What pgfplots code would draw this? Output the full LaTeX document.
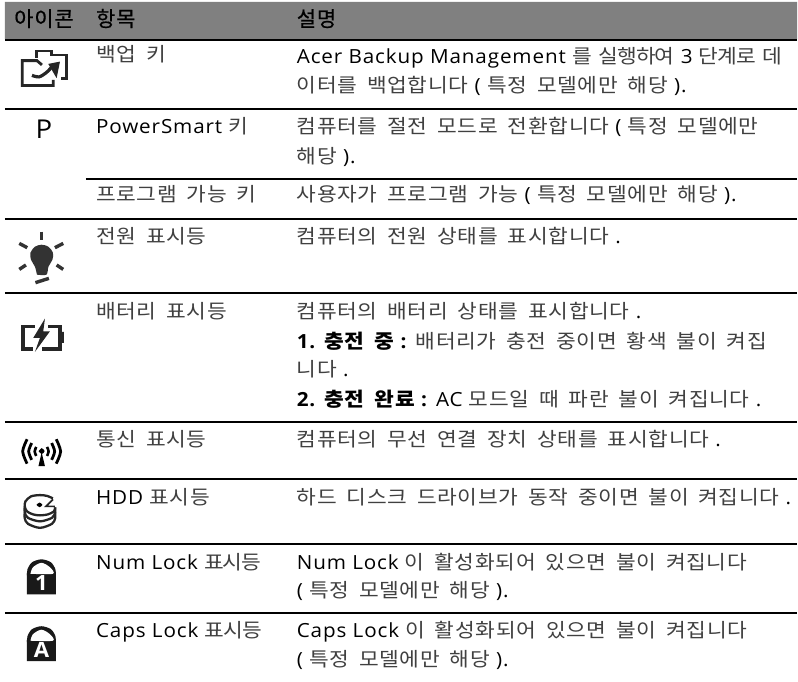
\documentclass[border=0pt]{standalone}
\usepackage{pgfplots}
\pgfplotsset{compat=1.18}
\usepackage{fontspec}
\setmainfont[LetterSpace=4.5,FakeStretch=1.06]{Open Sans}
\newfontfamily\kr[LetterSpace=3.5,FakeStretch=1.1,WordSpace=1.8]{Noto Sans CJK KR}
\newfontfamily\krn[LetterSpace=-5,FakeStretch=1.1,WordSpace=1.8]{Noto Sans CJK KR}
\newfontfamily\krh[LetterSpace=4,FakeBold=0.6]{Noto Sans CJK KR}
\definecolor{krc}{gray}{0.25}
\newcommand\KR[1]{{\color{krc}\kr #1}}
\newcommand\KN[1]{{\color{krc}\krn #1}}
\newcommand\BK[1]{{\color{black}\kr\bfseries #1}}
\newcommand\TX[3]{\node[anchor=base west,inner sep=0pt,text=black,font=\fontsize{19.5}{22}\selectfont] at (axis cs:#1,#2) {#3};}
\newcommand\HD[2]{\node[anchor=base west,inner sep=0pt,text=black,font=\fontsize{21}{24}\selectfont\krh] at (axis cs:#1,26.5) {#2};}
\begin{document}
\begin{tikzpicture}
\begin{axis}[hide axis,scale only axis,width=798pt,height=682pt,xmin=0,xmax=798,ymin=0,ymax=682,y dir=reverse,clip=false,no markers,enlargelimits=false]
\addplot[fill=white,draw=none] coordinates {(0,0)(798,0)(798,682)(0,682)(0,0)};
\addplot[fill=black!50,draw=none] coordinates {(5,2)(798,2)(798,39)(5,39)(5,2)};
% rules
\addplot[black,line width=2pt] coordinates {(5,39.8)(798,39.8)};
\addplot[black,line width=2pt] coordinates {(5,108.7)(798,108.7)};
\addplot[black,line width=1.6pt] coordinates {(86,179)(798,179)};
\addplot[black,line width=2pt] coordinates {(5,219)(798,219)};
\addplot[black,line width=2pt] coordinates {(5,293.5)(798,293.5)};
\addplot[black,line width=2pt] coordinates {(5,422.7)(798,422.7)};
\addplot[black,line width=2pt] coordinates {(5,480)(798,480)};
\addplot[black,line width=2pt] coordinates {(5,545)(798,545)};
\addplot[black,line width=2pt] coordinates {(5,614)(798,614)};
% header
\HD{14}{아이콘}\HD{96}{항목}\HD{297}{설명}
% text
\TX{96}{62}{\KR{백업 키}}
\TX{297}{63.5}{Acer Backup Management \KN{를 실행하여} 3 \KN{단계로 데}}
\TX{297}{92.5}{\KR{이터를 백업합니다} ( \KR{특정 모델에만 해당} ).}
\TX{96}{134}{PowerSmart \KR{키}}
\TX{297}{134}{\KR{컴퓨터를 절전 모드로 전환합니다} ( \KR{특정 모델에만}}
\TX{297}{163.5}{\KR{해당} ).}
\TX{96}{201.5}{\KR{프로그램 가능 키}}
\TX{297}{201.5}{\KR{사용자가 프로그램 가능} ( \KR{특정 모델에만 해당} ).}
\TX{96}{244}{\KR{전원 표시등}}
\TX{297}{244}{\KR{컴퓨터의 전원 상태를 표시합니다} .}
\TX{96}{319}{\KR{배터리 표시등}}
\TX{297}{319}{\KR{컴퓨터의 배터리 상태를 표시합니다} .}
\TX{297}{349}{\textbf{1.} \BK{충전 중} \textbf{:} \KR{배터리가 충전 중이면 황색 불이 켜집}}
\TX{297}{377}{\KR{니다} .}
\TX{297}{407}{\textbf{2.} \BK{충전 완료} \textbf{:} AC \KR{모드일 때 파란 불이 켜집니다} .}
\TX{96}{447}{\KR{통신 표시등}}
\TX{297}{447}{\KR{컴퓨터의 무선 연결 장치 상태를 표시합니다} .}
\TX{96}{505}{HDD \KR{표시등}}
\TX{297}{505}{\KR{하드 디스크 드라이브가 동작 중이면 불이 켜집니다} .}
\TX{96}{570}{Num Lock \KN{표시등}}
\TX{297}{570}{Num Lock \KR{이 활성화되어 있으면 불이 켜집니다}}
\TX{297}{598}{( \KR{특정 모델에만 해당} ).}
\TX{96}{638.5}{Caps Lock \KN{표시등}}
\TX{297}{638.5}{Caps Lock \KR{이 활성화되어 있으면 불이 켜집니다}}
\TX{297}{667}{( \KR{특정 모델에만 해당} ).}
\node[anchor=base west,inner sep=0pt,font=\fontsize{26}{28}\selectfont] at (axis cs:35.5,138.5) {P};
% backup icon
\addplot[black!85,line width=2.8pt] coordinates {(36.7,58)(36.7,51)(51.7,51)(51.7,55)(66.7,55)(66.7,78.3)(60.7,78.3)};
\addplot[black!85,line width=2.8pt] coordinates {(42,65)(37,60.7)(22.3,60.7)(22.3,85.7)(53.3,85.7)(53.3,80)};
\addplot[black!85,line width=3.2pt,smooth] coordinates {(32,75.5)(39,77)(46,73)(52,67)};
\addplot[fill=black!85,draw=none] coordinates {(60,61.7)(48.3,64)(56.7,78.3)(60,61.7)};
% bulb
\addplot[fill=black!80,draw=none,smooth] coordinates {(37,275)(35,267)(31,260)(30.5,253)(35,247)(41.7,245)(48.5,247)(53,253)(52.5,260)(48.5,267)(46.5,275)(37,275)};
\addplot[black!80,line width=3.4pt] coordinates {(41.7,232)(41.7,240.7)};
\addplot[black!80,line width=3.4pt] coordinates {(19.3,243.7)(27.3,248)};
\addplot[black!80,line width=3.4pt] coordinates {(55,248)(63.3,243.7)};
\addplot[black!80,line width=3.4pt] coordinates {(19.3,269.7)(26,265.3)};
\addplot[black!80,line width=3.4pt] coordinates {(56.7,265.3)(63.3,269.7)};
\addplot[black!80,line width=3.4pt] coordinates {(35.5,283)(49,278.7)};
% battery
\addplot[black!85,line width=3.6pt] coordinates {(35,327)(23,327)(23,349.3)(33.3,349.3)};
\addplot[black!85,line width=3.6pt] coordinates {(48.3,327)(60,327)(60,349.3)(41.7,349.3)};
\addplot[fill=black!85,draw=none] coordinates {(60,332.3)(64,332.3)(64,343.3)(60,343.3)(60,332.3)};
\addplot[fill=black!85,draw=none] coordinates {(45,319)(33.3,338.3)(40,338.3)(35,352.3)(50,331.7)(43.3,331.7)(45,319)};
% wireless
\addplot[fill=black,draw=none] coordinates {(41.7,453)(38.5,466.7)(45,466.7)(41.7,453)};
\addplot[fill=black,draw=none,smooth] coordinates {(38.7,451.7)(41.7,448.7)(44.7,451.7)(41.7,454.7)(38.7,451.7)};
\addplot[black,line width=2.8pt,smooth] coordinates {(27.1,439.8)(22.7,452)(27.1,464.2)};
\addplot[black,line width=2.8pt,smooth] coordinates {(56.3,439.8)(60.7,452)(56.3,464.2)};
\addplot[black,line width=2.8pt,smooth] coordinates {(31.7,443.6)(28.7,452)(31.7,460.4)};
\addplot[black,line width=2.8pt,smooth] coordinates {(51.7,443.6)(54.7,452)(51.7,460.4)};
\addplot[black,line width=2.6pt,smooth] coordinates {(36.3,447.5)(34.7,452)(36.3,456.5)};
\addplot[black,line width=2.6pt,smooth] coordinates {(47.1,447.5)(48.7,452)(47.1,456.5)};
% hdd
\addplot[black!85,line width=2.3pt,smooth] coordinates {(53,499)(47,496.5)(40,495.7)(31,497)(25.5,502)(24.8,507)(27,512)(33,515)(40,516)(48,515)(54,512)(55.2,508)};
\addplot[black!85,line width=1.7pt] coordinates {(55,507)(46,507)(53,500)};
\addplot[fill=black,draw=none,smooth] coordinates {(36.5,505.5)(39.5,503.2)(42.5,505.5)(39.5,507.8)(36.5,505.5)};
\addplot[black!85,line width=2.3pt,smooth] coordinates {(24.8,507)(24.8,513)(28,518.5)(40,522)(52,518.5)(55.2,513)(55.2,508)};
\addplot[black!85,line width=2.3pt,smooth] coordinates {(24.8,513)(24.8,519)(28,524.5)(40,528.5)(52,524.5)(55.2,519)(55.2,513)};
% locks
\addplot[fill=black!90,draw=none,smooth] coordinates {(27,576)(27.5,570)(32,563)(41.5,560)(51,563)(55.5,570)(56,576)};
\addplot[fill=black!90,draw=none] coordinates {(27,574)(56,574)(56,595)(27,595)(27,574)};
\addplot[fill=white,draw=none,smooth] coordinates {(30.5,574.5)(33,568)(41.5,563.5)(50,568)(53,574.5)(30.5,574.5)};
\node[anchor=base,inner sep=0pt,text=white,font=\fontsize{21}{22}\selectfont\bfseries] at (axis cs:41.5,591.7) {1};
\addplot[fill=black!90,draw=none,smooth] coordinates {(27,643)(27.5,637)(32,630)(41.5,627)(51,630)(55.5,637)(56,643)};
\addplot[fill=black!90,draw=none] coordinates {(27,641)(56,641)(56,662)(27,662)(27,641)};
\addplot[fill=white,draw=none,smooth] coordinates {(30.5,641.5)(33,635)(41.5,630.5)(50,635)(53,641.5)(30.5,641.5)};
\node[anchor=base,inner sep=0pt,text=white,font=\fontsize{21}{22}\selectfont\bfseries] at (axis cs:41.5,658.5) {A};
\end{axis}
\end{tikzpicture}
\end{document}
